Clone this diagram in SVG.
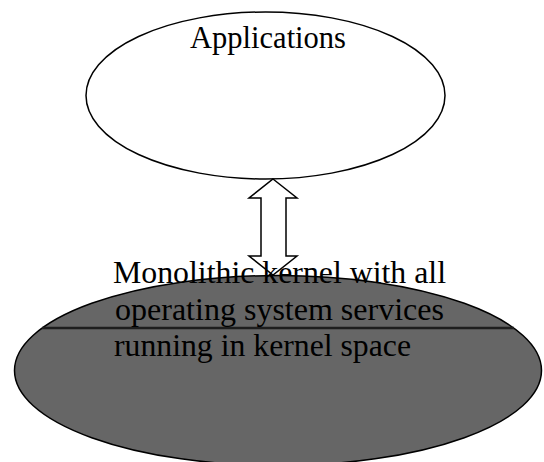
<svg xmlns="http://www.w3.org/2000/svg" width="544" height="462" viewBox="0 0 544 462">
<style>
.lbl{font-family:"Liberation Serif","Times New Roman",serif;font-size:31px;fill:#000}
.edge{stroke:#000;stroke-width:1.5}
</style>
<rect width="544" height="462" fill="#fff"/>
<g id="applications">
<ellipse cx="265.5" cy="95.5" rx="179.5" ry="83.5" fill="#fff" class="edge"/>
<text class="lbl" x="190" y="48" textLength="156" lengthAdjust="spacingAndGlyphs">Applications</text>
</g>
<g id="connectors">
<polygon points="273,179 297,198 286,198 286,256 297,256 273,275 249,256 261,256 261,198 249,198" fill="#fff" stroke="#000" stroke-width="1.5"/>
</g>
<g id="kernel">
<ellipse cx="278" cy="370.5" rx="263.5" ry="95" fill="#666" class="edge"/>
<line x1="42" y1="328" x2="514" y2="328" stroke="#1e1e1e" stroke-width="2.5"/>
<text class="lbl" x="113" y="283" textLength="333" lengthAdjust="spacingAndGlyphs">Monolithic kernel with all</text>
<text class="lbl" x="115" y="319.5" textLength="329" lengthAdjust="spacingAndGlyphs">operating system services</text>
<text class="lbl" x="114" y="355.5" textLength="297" lengthAdjust="spacingAndGlyphs">running in kernel space</text>
</g>
</svg>
